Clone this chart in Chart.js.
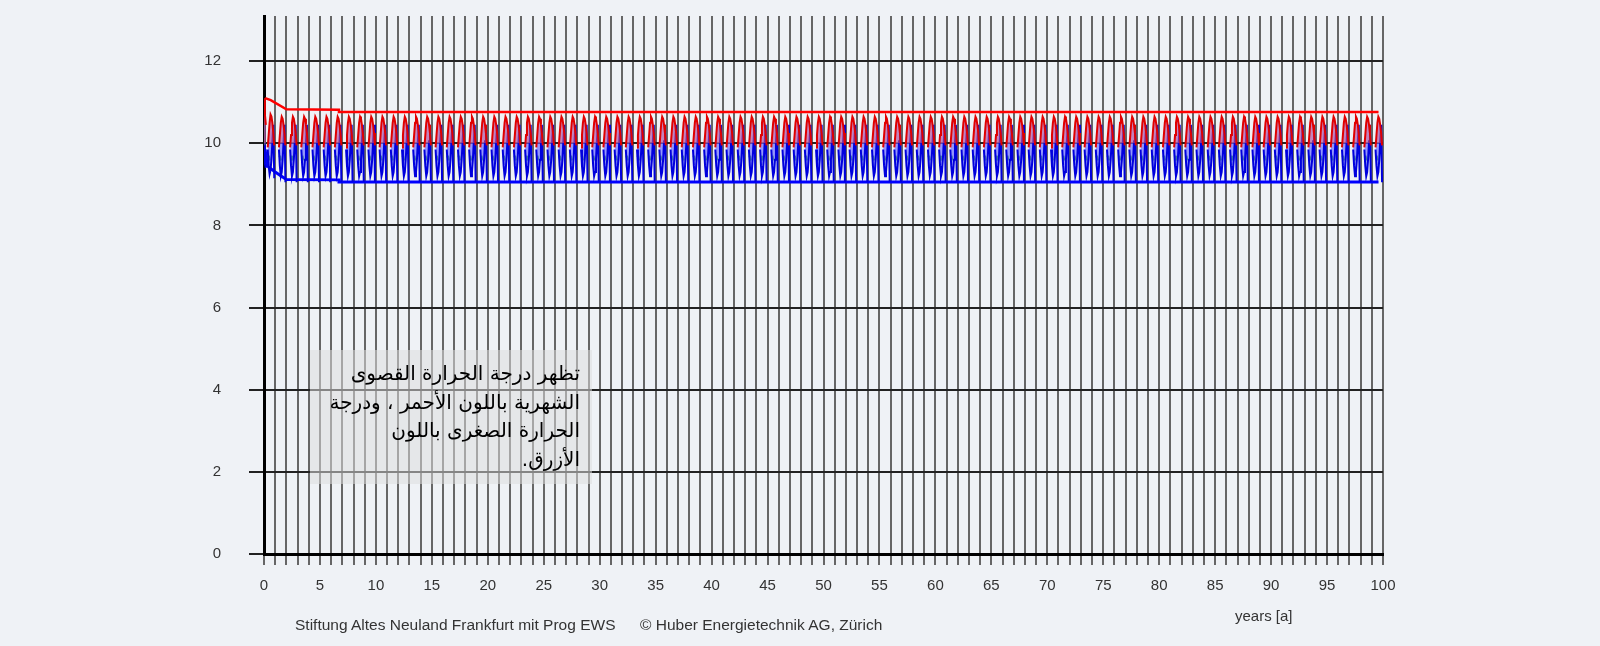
<!DOCTYPE html>
<html>
<head>
<meta charset="utf-8">
<script src="https://cdn.jsdelivr.net/npm/chart.js@4"></script>
<style>
  body { margin: 0; background: #eff2f6; }
  #wrap { position: relative; width: 1600px; height: 646px; font-family: "Liberation Sans", Arial, sans-serif; color: #333; }
  canvas { position: absolute; left: 0; top: 0; }
  .note { position: absolute; left: 310px; top: 350px; width: 282px; height: 134px; box-sizing: border-box;
          background: rgba(221, 221, 221, 0.53); direction: rtl; text-align: right; padding: 9px 12px 0 0;
          font-family: "DejaVu Sans", sans-serif; font-size: 20px; line-height: 28.5px; color: #000; white-space: nowrap; }
  .foot { position: absolute; font-size: 15.5px; white-space: nowrap; }
</style>
</head>
<body>
<div id="wrap">
  <canvas id="myChart" width="1600" height="646"></canvas>
  <div class="note">تظهر درجة الحرارة القصوى<br>الشهرية باللون الأحمر ، ودرجة<br>الحرارة الصغرى باللون<br>الأزرق.</div>
  <div class="foot" style="left:295px; top:616px;">Stiftung Altes Neuland Frankfurt mit Prog EWS</div>
  <div class="foot" style="left:640px; top:616px;">© Huber Energietechnik AG, Zürich</div>
  <div class="foot" style="left:1235px; top:607px; font-size:15px;">years [a]</div>
</div>
<script>
// Chart data
var nYears = 100;
var xTickLabels = ['0', '5', '10', '15', '20', '25', '30', '35', '40', '45', '50',
                   '55', '60', '65', '70', '75', '80', '85', '90', '95', '100'];

// monthly max / min fluid temperature, typical year (null = no trace that month)
var cycleMax = [null, null, null, null, 9.9, 10.2, 10.5, 10.65, 10.6, 10.45, 10.25, 9.95];
var cycleMin = [null, null, null, null, 9.85, 9.45, 9.2, 9.3, 9.6, 10.05, 10.45, 9.05];
var cycleMid = [null, null, null, null, null, 9.7, 9.58, null, null, null, null, null];
// first year differs (start-up)
var firstMax = [11.1, 10.7, 10.45, null, 9.9, 10.2, 10.5, 10.7, 10.65, 10.5, 10.25, 9.95];
var firstMin = [9.95, 9.5, 9.4, null, 9.85, 9.45, 9.25, 9.35, 9.6, 10.05, 10.45, 9.15];
var firstMid = [10.05, null, null, null, null, 9.7, 9.58, null, null, null, null, null];

// envelope of monthly extremes
var envMaxX = [0.1, 0.6, 2.0, 6.7, 6.7, 99.6];
var envMaxY = [11.1, 11.05, 10.83, 10.82, 10.76, 10.76];
var envMinX = [0.1, 0.3, 1.0, 2.0, 6.7, 6.7, 99.6];
var envMinY = [9.85, 9.45, 9.3, 9.12, 9.11, 9.06, 9.06];

function monthly(first, typical) {
    var pts = [];
    for (var yr = 0; yr < nYears; yr++) {
        var row = yr === 0 ? first : typical;
        for (var m = 0; m < 12; m++) {
            pts.push({ x: yr + m / 12, y: row[m] });
        }
    }
    return pts;
}
function pairs(xs, ys) {
    return xs.map(function (x, i) { return { x: x, y: ys[i] }; });
}

var ctx = document.getElementById('myChart').getContext('2d');
var myChart = new Chart(ctx, {
    type: 'line',
    data: {
        datasets: [{
            label: 'max',
            data: monthly(firstMax, cycleMax),
            borderColor: '#e00000',
            borderWidth: 2,
            fill: { target: { value: 10 }, above: 'rgba(255, 110, 110, 0.45)', below: 'rgba(0, 0, 0, 0)' }
        }, {
            label: 'min',
            data: monthly(firstMin, cycleMin),
            borderColor: '#0000dd',
            borderWidth: 2,
            fill: '-1',
            backgroundColor: 'rgba(100, 100, 255, 0.65)'
        }, {
            label: 'mean',
            data: monthly(firstMid, cycleMid),
            borderColor: '#00a000',
            borderWidth: 2.5
        }, {
            label: 'envelope max',
            data: pairs(envMaxX, envMaxY),
            borderColor: '#ff0000',
            borderWidth: 2.5
        }, {
            label: 'envelope min',
            data: pairs(envMinX, envMinY),
            borderColor: '#0000ff',
            borderWidth: 3
        }]
    },
    options: {
        responsive: false,
        animation: false,
        devicePixelRatio: 1,
        spanGaps: false,
        elements: { point: { radius: 0 }, line: { tension: 0 } },
        layout: { padding: { left: 0, top: 16, right: 217, bottom: 0 } },
        plugins: { legend: { display: false }, tooltip: { enabled: false } },
        scales: {
            x: {
                type: 'linear',
                min: 0,
                max: 100,
                afterFit: function (s) { s.height = 92; },
                ticks: {
                    stepSize: 1,
                    autoSkip: false,
                    maxRotation: 0,
                    padding: 12,
                    color: '#333',
                    font: { family: 'Liberation Sans', size: 15 },
                    callback: function (v) {
                        var t = String(v);
                        return xTickLabels.indexOf(t) >= 0 ? t : '';
                    }
                },
                grid: { color: '#666', lineWidth: 2, tickLength: 11 },
                border: { color: '#000', width: 3 }
            },
            y: {
                min: 0,
                max: 13.1,
                afterFit: function (s) {
                    s.width = 264;
                    s.paddingTop = 0;
                    s.paddingBottom = 0;
                },
                ticks: {
                    stepSize: 2,
                    includeBounds: false,
                    padding: 28,
                    color: '#333',
                    font: { family: 'Liberation Sans', size: 15 }
                },
                grid: { color: '#222', lineWidth: 2, tickLength: 15 },
                border: { color: '#000', width: 3 }
            }
        }
    }
});
</script>
</body>
</html>
